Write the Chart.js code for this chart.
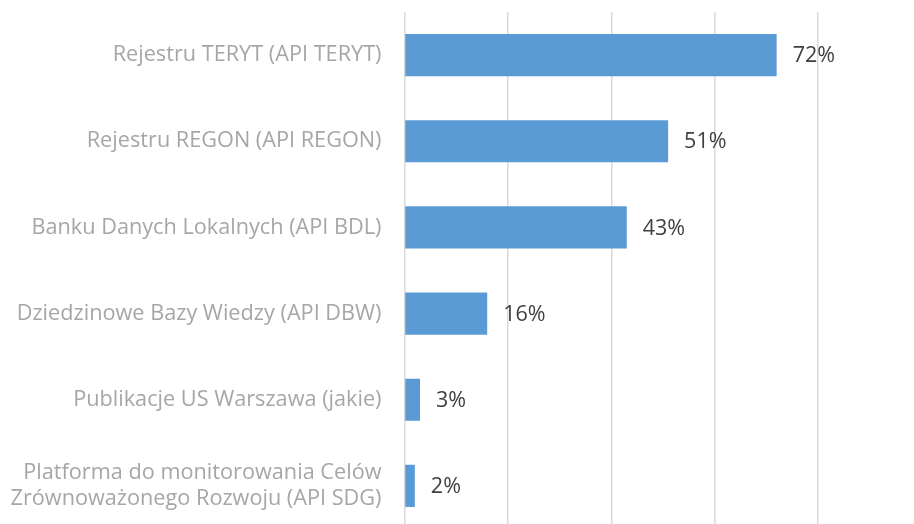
<!DOCTYPE html>
<html>
<head>
<meta charset="utf-8">
<script src="https://cdn.jsdelivr.net/npm/chart.js@4"></script>
<style>
  html, body { margin: 0; padding: 0; background: #fff; overflow: hidden; }
  #wrap { width: 914px; height: 529px; position: relative; }
</style>
</head>
<body>
<div id="wrap"><canvas id="apiChart"></canvas></div>
<script>
// Categories (top to bottom)
const categories = [
  "Rejestru TERYT (API TERYT)",
  "Rejestru REGON (API REGON)",
  "Banku Danych Lokalnych (API BDL)",
  "Dziedzinowe Bazy Wiedzy (API DBW)",
  "Publikacje US Warszawa (jakie)",
  ["Platforma do monitorowania Celów", "Zrównoważonego Rozwoju (API SDG)"]
];

// Share of answers, percent
const shares = [72, 51, 43, 16, 3, 2];

const FONT = "'Open Sans', 'DejaVu Sans', sans-serif";

// draws the "72%" style labels right of each bar
const valueLabels = {
  id: "valueLabels",
  afterDatasetsDraw(chart){
    const ctx = chart.ctx;
    const meta = chart.getDatasetMeta(0);
    ctx.save();
    ctx.font = "21.5px " + FONT;
    ctx.fillStyle = "#404040";
    ctx.textAlign = "left";
    ctx.textBaseline = "middle";
    meta.data.forEach((bar, i) => {
      ctx.fillText(shares[i] + "%", bar.x + 16, bar.y + 1);
    });
    ctx.restore();
  }
};

const ctx = document.getElementById("apiChart").getContext("2d");
new Chart(ctx, {
  type: "bar",
  data: {
    labels: categories,
    datasets: [{
      data: shares,
      backgroundColor: "#5b9bd5",
      borderWidth: 0,
      categoryPercentage: 1,
      barPercentage: 0.49
    }]
  },
  options: {
    indexAxis: "y",
    responsive: true,
    maintainAspectRatio: false,
    animation: false,
    layout: { padding: { top: 12, right: 96, left: 0, bottom: 0 } },
    plugins: {
      legend: { display: false },
      tooltip: { enabled: false }
    },
    scales: {
      x: {
        min: 0,
        max: 80,
        ticks: { display: false, stepSize: 20 },
        grid: { color: "#d9d9d9", lineWidth: 1.5, drawTicks: false },
        border: { display: false },
        afterFit(scale){ scale.height = 0; }
      },
      y: {
        grid: { display: false, drawTicks: false },
        border: { display: false },
        ticks: {
          padding: 23,
          color: "#a6a6a6",
          font: { family: FONT, size: 21.7, lineHeight: 1.2 }
        },
        afterFit(scale){
          scale.width = 404.5;
          scale.paddingTop = 0;
          scale.paddingBottom = 0;
        }
      }
    }
  },
  plugins: [valueLabels]
});
</script>
</body>
</html>
